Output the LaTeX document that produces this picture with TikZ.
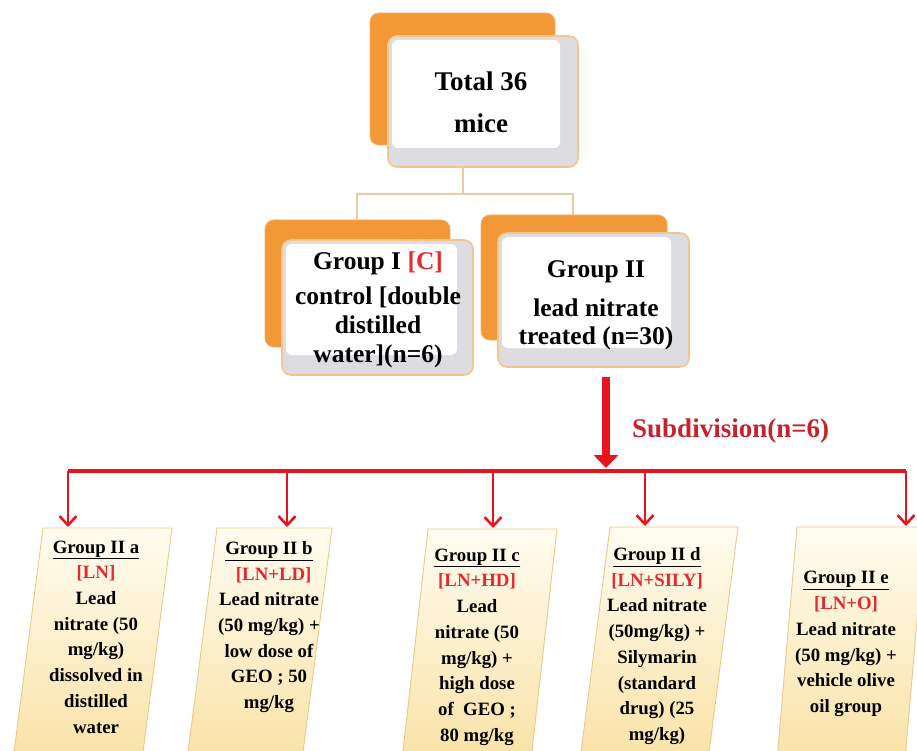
\documentclass[tikz,border=0pt]{standalone}
\usepackage{fontspec}
\setmainfont{Liberation Serif}
\usetikzlibrary{arrows.meta}
\definecolor{orback}{RGB}{242,152,54}
\definecolor{frborder}{RGB}{244,197,142}
\definecolor{frgray}{RGB}{221,221,225}
\definecolor{conn}{RGB}{237,203,160}
\definecolor{arrred}{RGB}{232,20,28}
\definecolor{subred}{RGB}{196,36,46}
\definecolor{brred}{RGB}{230,40,50}
\definecolor{pbtop}{RGB}{255,252,240}
\definecolor{pbbot}{RGB}{249,226,166}
\definecolor{pbborder}{RGB}{234,202,140}
\tikzset{
  backbox/.style={fill=orback, draw=orback!80!white, line width=0.8pt, rounded corners=9pt},
  frontouter/.style={fill=frgray, draw=frborder, line width=1.6pt, rounded corners=9pt},
  frontinner/.style={fill=white, rounded corners=6pt},
  connline/.style={draw=conn, line width=2.4pt},
  pbox/.style={top color=pbtop, bottom color=pbbot, draw=pbborder, line width=0.9pt},
  topt/.style={font=\fontsize{27}{42}\selectfont\bfseries, align=center, inner sep=0pt},
  grpt/.style={font=\fontsize{25.5}{29}\selectfont\bfseries, align=center, inner sep=0pt},
  grptb/.style={font=\fontsize{25.5}{27.5}\selectfont\bfseries, align=center, inner sep=0pt},
  subt/.style={font=\fontsize{18.8}{25.7}\selectfont\bfseries, align=center, inner sep=0pt},
  smallarr/.style={draw=arrred, line width=2.6pt, -{Straight Barb[length=9pt,width=17pt,line width=2.6pt]}},
  bigarr/.style={draw=arrred, line width=7.5pt, -{Triangle[length=13pt,width=24pt]}},
}
\newcommand{\rb}[1]{\textcolor{brred}{#1}}
\begin{document}
\begin{tikzpicture}[x=1pt,y=-1pt]
\path[use as bounding box] (0,0) rectangle (917,751);
\clip (0,0) rectangle (917,751);
\fill[white] (0,0) rectangle (917,751);

% ---------- Top box ----------
\path[backbox] (370,13) rectangle (555,145);
\path[frontouter] (388,36) rectangle (578,167);
\path[frontinner] (392,40) rectangle (560,148);
\node[topt] (total) at (481,102) {Total 36\\mice};
\coordinate (totb) at (463,167);

% ---------- Group I ----------
\path[backbox] (265,220) rectangle (450,347);
\path[frontouter] (282,240) rectangle (473,375);
\path[frontinner] (286,244) rectangle (457,355);
\node[grpt] (g1) at (378,310) {Group I \rb{[C]}\\[6pt]control [double\\distilled\\water](n=6)};
\coordinate (g1t) at (357,220);

% ---------- Group II ----------
\path[backbox] (481,215) rectangle (667,340);
\path[frontouter] (498,233) rectangle (689,367);
\path[frontinner] (502,237) rectangle (671,348);
\node[grptb] (g2) at (596,305) {Group II\\[12pt]lead nitrate\\treated (n=30)};
\coordinate (g2t) at (573,215);

% connectors
\coordinate (hub) at (463,194);
\draw[connline] (totb) -- (hub);
\draw[connline] (g1t) |- (hub) -| (g2t);

% ---------- Subdivision arrow ----------
\coordinate (bigs) at (606,377);
\coordinate (bige) at (606,468);
\draw[bigarr] (bigs) -- (bige);
\node[font=\fontsize{27}{30}\selectfont\bfseries, text=subred, anchor=west, inner sep=0pt] (subdiv) at (632,431) {Subdivision(n=6)};

% bus
\coordinate (busl) at (68,471);
\coordinate (busr) at (906,471);
\draw[arrred, line width=4pt] (busl) -- (busr);

% ---------- Bottom boxes ----------
\path[pbox] (43,528) -- (172,528) -- (142,760) -- (13,760) -- cycle;
\path[pbox] (217,528) -- (332,528) -- (302,760) -- (187,760) -- cycle;
\path[pbox] (428,529) -- (557,529) -- (531,760) -- (402,760) -- cycle;
\path[pbox] (610,527) -- (738,527) -- (708,760) -- (580,760) -- cycle;
\path[pbox] (797,527) -- (925,527) -- (905,760) -- (777,760) -- cycle;

\coordinate (ta) at (68,527);
\coordinate (tb) at (287,527);
\coordinate (tc) at (493,528);
\coordinate (td) at (645,526);
\coordinate (te) at (906,526);
\coordinate (ba) at (68,471);
\coordinate (bb) at (287,471);
\coordinate (bc) at (493,471);
\coordinate (bd) at (645,471);
\coordinate (be) at (906,471);
\draw[smallarr] (ba) -- (ta);
\draw[smallarr] (bb) -- (tb);
\draw[smallarr] (bc) -- (tc);
\draw[smallarr] (bd) -- (td);
\draw[smallarr] (be) -- (te);

\node[subt] (ga) at (96,637) {\underline{Group II a}\\\rb{[LN]}\\Lead\\nitrate (50\\mg/kg)\\dissolved in\\distilled\\water};
\node[subt] (gb) at (269,627) {\underline{Group II b}\\\ \ \rb{[LN+LD]}\\Lead nitrate\\(50 mg/kg) +\\low dose of\\GEO ; 50\\mg/kg};
\node[subt] (gc) at (477,647) {\underline{Group II c}\\\rb{[LN+HD]}\\Lead\\nitrate (50\\mg/kg) +\\high dose\\of\ \ GEO ;\\80 mg/kg};
\node[subt] (gd) at (657,646) {\underline{Group II d}\\\rb{[LN+SILY]}\\Lead nitrate\\(50mg/kg) +\\Silymarin\\(standard\\drug) (25\\mg/kg)};
\node[subt] (ge) at (846,644) {\underline{Group II e}\\\rb{[LN+O]}\\Lead nitrate\\(50 mg/kg) +\\vehicle olive\\oil group};
\end{tikzpicture}
\end{document}
